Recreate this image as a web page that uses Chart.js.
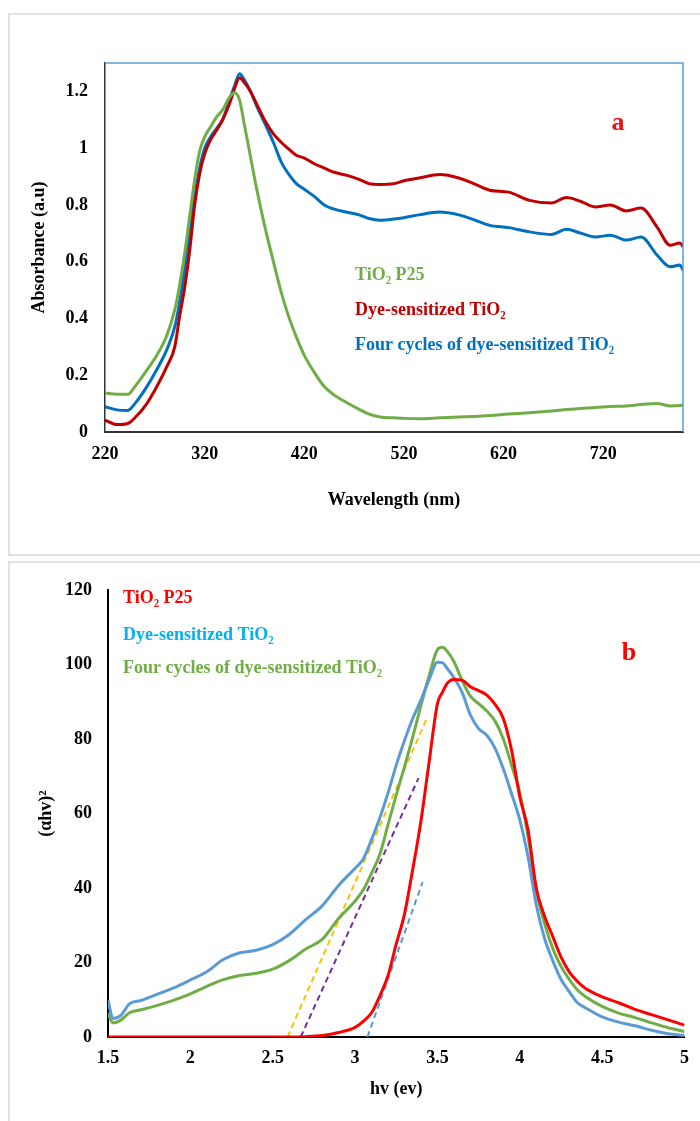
<!DOCTYPE html>
<html>
<head>
<meta charset="utf-8">
<script src="https://cdn.jsdelivr.net/npm/chart.js@4.4.1/dist/chart.umd.min.js"></script>
<style>
  body { margin: 0; background: #fff; width: 700px; height: 1121px; position: relative; overflow: hidden; }
  .frame { position: absolute; border: 2px solid #e2e2e2; box-sizing: border-box; }
  canvas { position: absolute; left: 0; }
</style>
</head>
<body>
<div class="frame" style="left:8px;top:13px;width:710px;height:543px;"></div>
<div class="frame" style="left:8px;top:561px;width:710px;height:600px;"></div>
<canvas id="chartA" width="700" height="558" style="top:0"></canvas>
<canvas id="chartB" width="700" height="561" style="top:560px"></canvas>
<script>
// ---- panel a : absorbance ----
const wavelength = [220,232,243,250,262,272,282,290,295,300,305,310,315,320,326,332,338,345,350,355,360,366,372,380,389,397,404,412,420,430,440,450,462,475,485,496,510,520,535,556,575,590,606,625,646,668,683,697,712,727,743,758,774,787,797,800];
const absP25 = [0.137,0.133,0.133,0.16,0.218,0.27,0.34,0.43,0.52,0.63,0.76,0.89,0.99,1.04,1.075,1.11,1.135,1.18,1.195,1.17,1.08,0.97,0.86,0.73,0.6,0.49,0.41,0.335,0.27,0.21,0.16,0.13,0.105,0.08,0.063,0.053,0.05,0.048,0.047,0.05,0.053,0.055,0.058,0.063,0.068,0.074,0.079,0.083,0.086,0.09,0.092,0.097,0.1,0.092,0.093,0.096];
const absDye = [0.042,0.026,0.03,0.05,0.1,0.16,0.23,0.3,0.41,0.51,0.64,0.8,0.91,0.98,1.03,1.063,1.1,1.157,1.21,1.248,1.23,1.2,1.157,1.1,1.05,1.02,0.998,0.975,0.965,0.945,0.93,0.915,0.905,0.89,0.875,0.872,0.875,0.885,0.895,0.907,0.895,0.875,0.852,0.845,0.816,0.807,0.826,0.813,0.793,0.8,0.779,0.789,0.722,0.658,0.666,0.652];
const absFour = [0.089,0.078,0.076,0.1,0.16,0.22,0.29,0.37,0.46,0.57,0.7,0.83,0.93,1.0,1.04,1.07,1.1,1.17,1.22,1.262,1.24,1.2,1.15,1.09,1.02,0.95,0.91,0.875,0.855,0.83,0.8,0.785,0.775,0.765,0.752,0.746,0.75,0.755,0.765,0.775,0.765,0.748,0.728,0.72,0.705,0.696,0.714,0.701,0.687,0.693,0.676,0.687,0.623,0.582,0.588,0.57];
const xTicksA = [220,320,420,520,620,720];
const yTicksA = [0,0.2,0.4,0.6,0.8,1,1.2];

// ---- panel b : Tauc plot ----
const energy = [1.5,1.53,1.58,1.63,1.7,1.8,1.9,2,2.1,2.2,2.3,2.4,2.5,2.6,2.7,2.8,2.9,3,3.05,3.1,3.15,3.2,3.25,3.3,3.35,3.4,3.45,3.5,3.53,3.56,3.6,3.65,3.7,3.75,3.8,3.85,3.9,3.95,4,4.05,4.1,4.15,4.2,4.25,4.3,4.35,4.4,4.5,4.6,4.7,4.8,4.9,5];
const taucP25 = [0,0,0,0,0,0,0,0,0,0,0,0,0,0,0.1,0.4,1.2,2.6,4.2,6.5,11,16.5,25,33,45,58,74,89.5,92.5,95,96,95.8,94,93,91.8,89.3,85.5,77,64.5,55.6,40,32.5,27,21.5,17.5,14.9,13,10.8,9.2,7.4,6,4.6,3.2];
const taucDye = [9.9,5,5.9,8.9,9.8,11.5,13.2,15.3,17.5,20.8,22.6,23.3,24.8,27.5,31.5,35.2,40.7,45.3,47.8,53,58.8,65.5,73,79.6,85.5,90.5,96,100.6,100.5,98.9,96.5,92.5,86.5,82.8,81,77.5,72,65.3,58.3,48.4,35.5,26.5,20.5,15.5,12.2,9.2,7.8,5.4,4,3,1.8,0.9,0.4];
const taucFour = [6.4,3.8,4.6,6.5,7.3,8.5,9.9,11.6,13.6,15.4,16.5,17.1,18.2,20.5,23.6,26.2,31.8,36.5,39.5,44,49,57,65,72.5,80.5,89,97,104,104.6,103.5,100.8,95.7,91.5,89.5,87.5,84.8,80,73,65.5,53.8,39.5,30.5,23.8,19,15.5,12.6,10.8,8.2,6.4,5.2,3.8,2.5,1.5];
const xTicksB = [1.5,2,2.5,3,3.5,4,4.5,5];
// tangent lines (edge extrapolation)
const fitDyeX = [2.59, 3.44];
const fitDyeY = [0, 86];
const fitFourX = [2.67, 3.385];
const fitFourY = [0, 69.5];
const fitP25X = [3.075, 3.41];
const fitP25Y = [0, 41.6];

const serif = "'Liberation Serif', 'Times New Roman', serif";
const pts = (xs, ys) => xs.map((x, i) => ({x: x, y: ys[i]}));

function curve(label, xs, ys, color) {
  return {label: label, data: pts(xs, ys), borderColor: color, borderWidth: 3,
    pointRadius: 0, cubicInterpolationMode: 'monotone', fill: false};
}
function dashed(label, xs, ys, color) {
  return {label: label, data: pts(xs, ys), borderColor: color, borderWidth: 2,
    borderDash: [6, 4], pointRadius: 0, fill: false};
}

// inside labels drawn as text
const notes = {
  id: 'notes',
  afterDraw(chart, args, opts) {
    const ctx = chart.ctx;
    ctx.save();
    ctx.textBaseline = 'middle';
    opts.items.forEach(it => {
      ctx.font = 'bold ' + it.size + 'px ' + serif;
      ctx.fillStyle = it.color;
      ctx.textAlign = it.align || 'left';
      ctx.fillText(it.text, it.x, it.y);
    });
    if (opts.frame) {
      const a = chart.chartArea;
      ctx.strokeStyle = '#5b9bd5';
      ctx.lineWidth = 1.5;
      ctx.beginPath();
      ctx.moveTo(a.left, a.top);
      ctx.lineTo(a.right, a.top);
      ctx.lineTo(a.right, a.bottom);
      ctx.stroke();
    }
    ctx.restore();
  }
};

const tickFont = {family: serif, size: 18, weight: 'bold'};

new Chart(document.getElementById('chartA'), {
  type: 'line',
  data: {
    datasets: [
      curve('TiO₂ P25', wavelength, absP25, '#70ad47'),
      curve('Dye-sensitized TiO₂', wavelength, absDye, '#c00000'),
      curve('Four cycles of dye-sensitized TiO₂', wavelength, absFour, '#0070c0')
    ]
  },
  options: {
    responsive: false,
    animation: false,
    layout: {padding: {left: 29, top: 63, right: 17, bottom: 47}},
    plugins: {
      legend: {display: false},
      tooltip: {enabled: false},
      notes: {
        frame: true,
        items: [
          {text: 'a', x: 618, y: 123, color: '#ee1111', size: 26, align: 'center'},
          {text: 'TiO₂ P25', x: 355, y: 275, color: '#70ad47', size: 18},
          {text: 'Dye-sensitized TiO₂', x: 355, y: 310, color: '#c00000', size: 18},
          {text: 'Four cycles of dye-sensitized TiO₂', x: 355, y: 345, color: '#0070c0', size: 18}
        ]
      }
    },
    scales: {
      x: {
        type: 'linear', min: 220, max: 800,
        afterBuildTicks: s => { s.ticks = xTicksA.map(v => ({value: v})); },
        afterFit: s => { s.height = 79; },
        grid: {display: false, drawTicks: false},
        border: {display: true, color: '#333', width: 2},
        ticks: {font: tickFont, color: '#000', padding: 12, autoSkip: false, maxRotation: 0},
        title: {display: true, text: 'Wavelength (nm)', font: tickFont, color: '#000', padding: 0}
      },
      y: {
        min: 0, max: 1.3,
        afterBuildTicks: s => { s.ticks = yTicksA.map(v => ({value: v})); },
        afterFit: s => { s.width = 76; },
        grid: {display: false, drawTicks: false},
        border: {display: true, color: '#333', width: 1.5},
        ticks: {font: tickFont, color: '#000', padding: 17, callback: v => String(v)},
        title: {display: true, text: 'Absorbance (a.u)', font: tickFont, color: '#000', padding: 0}
      }
    }
  },
  plugins: [notes]
});

new Chart(document.getElementById('chartB'), {
  type: 'line',
  data: {
    datasets: [
      curve('TiO₂ P25', energy, taucP25, '#ff0000'),
      curve('Dye-sensitized TiO₂', energy, taucDye, '#5b9bd5'),
      curve('Four cycles of dye-sensitized TiO₂', energy, taucFour, '#70ad47'),
      dashed('fit dye', fitDyeX, fitDyeY, '#ffc000'),
      dashed('fit four', fitFourX, fitFourY, '#7030a0'),
      dashed('fit P25', fitP25X, fitP25Y, '#5b9bd5')
    ]
  },
  options: {
    responsive: false,
    animation: false,
    layout: {padding: {left: 36, top: 30, right: 13, bottom: 21}},
    plugins: {
      legend: {display: false},
      tooltip: {enabled: false},
      notes: {
        frame: false,
        items: [
          {text: 'b', x: 629, y: 93, color: '#ff0000', size: 26, align: 'center'},
          {text: 'TiO₂ P25', x: 123, y: 38, color: '#ff0000', size: 18},
          {text: 'Dye-sensitized TiO₂', x: 123, y: 75, color: '#00b0f0', size: 18},
          {text: 'Four cycles of dye-sensitized TiO₂', x: 123, y: 108, color: '#70ad47', size: 18}
        ]
      }
    },
    scales: {
      x: {
        type: 'linear', min: 1.5, max: 5,
        afterBuildTicks: s => { s.ticks = xTicksB.map(v => ({value: v})); },
        afterFit: s => { s.height = 63; },
        grid: {display: false, drawTicks: false},
        border: {display: true, color: '#000', width: 2},
        ticks: {font: tickFont, color: '#000', padding: 11, autoSkip: false, maxRotation: 0, callback: v => String(v)},
        title: {display: true, text: 'hv (ev)', font: tickFont, color: '#000', padding: 0}
      },
      y: {
        min: 0, max: 120,
        afterFit: s => { s.width = 72; },
        grid: {display: false, drawTicks: false},
        border: {display: true, color: '#000', width: 2},
        ticks: {font: tickFont, color: '#000', padding: 16, stepSize: 20},
        title: {display: true, text: '(αhv)²', font: tickFont, color: '#000', padding: 0}
      }
    }
  },
  plugins: [notes]
});
</script>
</body>
</html>
